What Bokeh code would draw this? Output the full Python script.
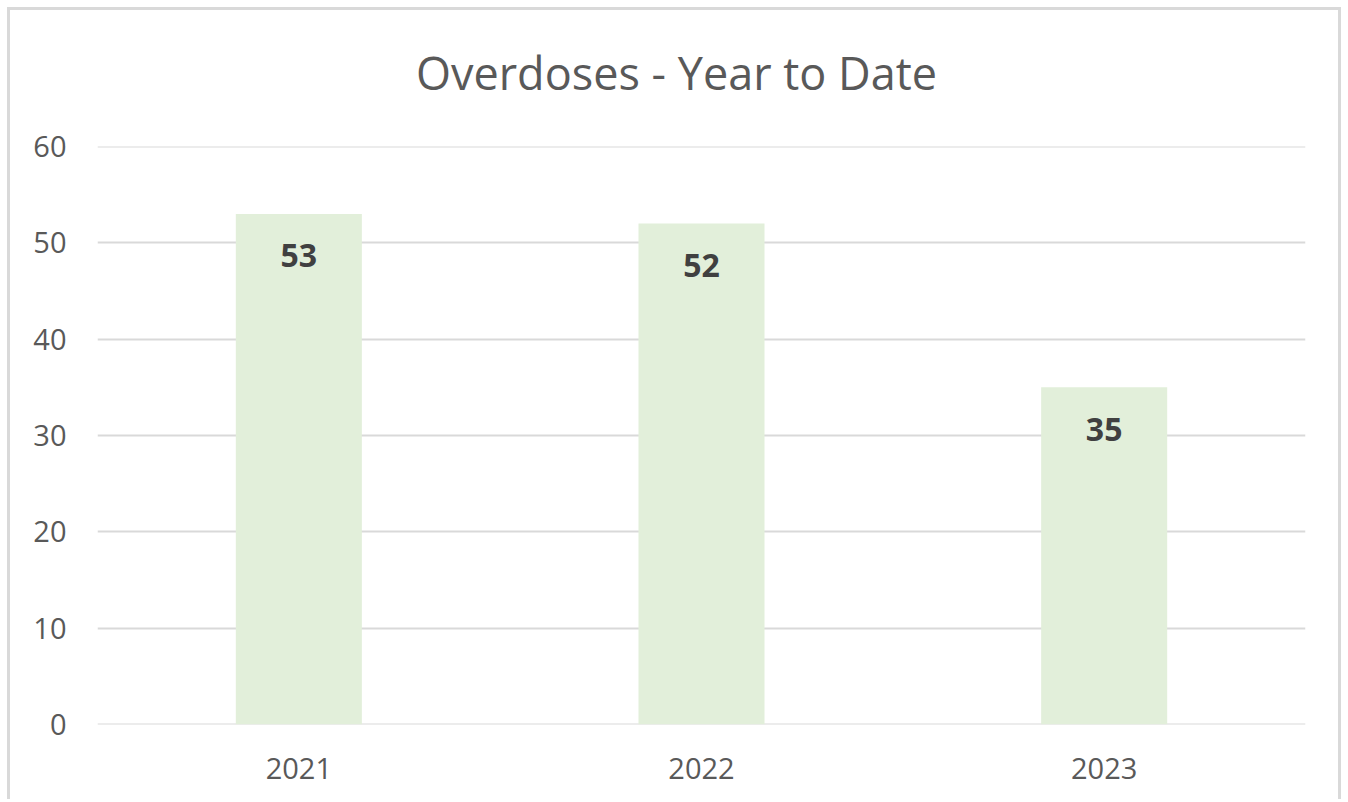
from bokeh.plotting import figure
from bokeh.models import ColumnDataSource, LabelSet, Label, FixedTicker, Range1d, Span
from bokeh.core.properties import value
from bokeh.embed import file_html
from bokeh.resources import INLINE

title_text = "Overdoses - Year to Date"
years = ["2021", "2022", "2023"]
overdoses = [53, 52, 35]
y_ticks = [0, 10, 20, 30, 40, 50, 60]

src = ColumnDataSource(data=dict(year=years, value=overdoses, label=[str(v) for v in overdoses]))

p = figure(x_range=years, y_range=Range1d(y_ticks[0], y_ticks[-1]), width=1334, height=792,
           output_backend="svg", toolbar_location=None,
           min_border_left=87, min_border_right=39, min_border_top=136, min_border_bottom=78)

p.styles = {"border-top": "3px solid #d9d9d9", "border-left": "3px solid #d9d9d9",
            "border-right": "3px solid #d9d9d9", "margin-left": "7px", "margin-top": "7px"}

p.x_range.range_padding = 0

# grid lines at the range edges (Bokeh skips them)
for t in (y_ticks[0], y_ticks[-1]):
    p.add_layout(Span(location=t, dimension="width", line_color="#d9d9d9",
                      line_width=2, level="underlay"))

p.vbar(x="year", top="value", width=0.313, source=src, fill_color="#e2efda", line_color=None)

labels = LabelSet(x="year", y="value", text="label", source=src, y_offset=-42,
                  text_align="center", text_baseline="middle", text_font=value("Open Sans"),
                  text_font_size=value("32px"), text_font_style="bold", text_color="#404040")
p.add_layout(labels)

# chart title: centred over the whole chart box, placed above the top of the value axis
p.add_layout(Label(x=len(years) / 2, y=y_ticks[-1], x_offset=-25, y_offset=74,
                   text=title_text, text_align="center", text_baseline="middle",
                   text_font="Open Sans", text_font_size="45px", text_color="#595959"),
             "above")

p.outline_line_color = None
p.xgrid.grid_line_color = None
p.ygrid.grid_line_color = "#d9d9d9"
p.ygrid.grid_line_width = 2
p.yaxis.ticker = FixedTicker(ticks=y_ticks)

p.yaxis.axis_line_color = None
p.yaxis.major_tick_line_color = None
p.yaxis.minor_tick_line_color = None
p.yaxis.major_label_standoff = 25
p.yaxis.major_label_text_font = "Open Sans"
p.yaxis.major_label_text_font_size = "29px"
p.yaxis.major_label_text_color = "#595959"

p.xaxis.axis_line_color = None
p.xaxis.major_tick_line_color = None
p.xaxis.minor_tick_line_color = None
p.xaxis.major_label_standoff = 27
p.xaxis.major_label_text_font = "Open Sans"
p.xaxis.major_label_text_font_size = "29px"
p.xaxis.major_label_text_color = "#595959"

open("out.html", "w").write(file_html(p, INLINE))
